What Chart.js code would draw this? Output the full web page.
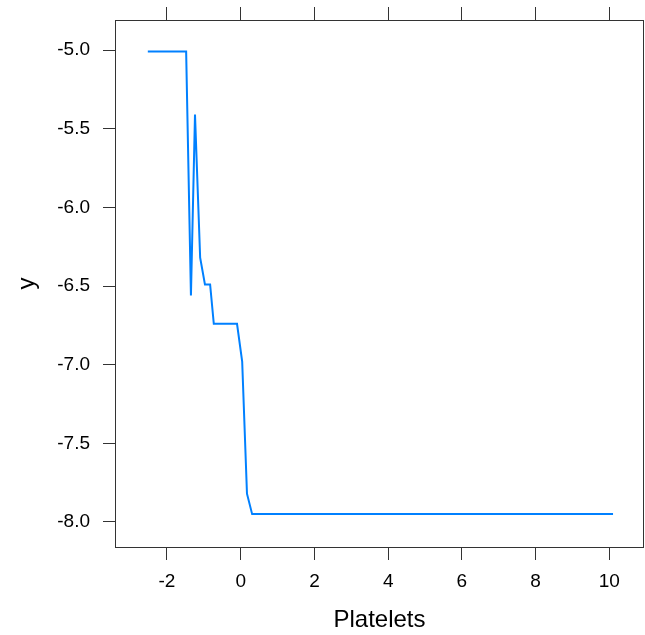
<!DOCTYPE html>
<html>
<head>
<meta charset="utf-8">
<script src="https://cdn.jsdelivr.net/npm/chart.js@4.4.1/dist/chart.umd.min.js"></script>
<style>
  html, body { margin: 0; padding: 0; background: #fff; }
  canvas { display: block; }
</style>
</head>
<body>
<canvas id="pdp" width="645" height="635"></canvas>
<script>
// partial dependence of y on Platelets
const platelets = [-2.52, -1.48, -1.35, -1.24, -1.10, -0.97, -0.83, -0.73, -0.10, 0.04, 0.17, 0.31, 10.10];
const yhat = [-5.01, -5.01, -6.56, -5.41, -6.32, -6.49, -6.49, -6.74, -6.74, -6.98, -7.82, -7.95, -7.95];

const xTicks = [-2, 0, 2, 4, 6, 8, 10];
const yTicks = [-8.0, -7.5, -7.0, -6.5, -6.0, -5.5, -5.0];

const FONT = '"Liberation Sans", Arial, sans-serif';
const AXIS = '#333';

// draws the closed panel frame
const frame = {
    id: 'frame',
    afterDraw(chart) {
        const { ctx, chartArea: a } = chart;
        ctx.save();
        ctx.strokeStyle = AXIS;
        ctx.lineWidth = 1;
        ctx.strokeRect(a.left + 0.5, a.top + 0.5, a.right - a.left - 1, a.bottom - a.top);
        ctx.restore();
    },
};

const fixedTicks = list => scale => { scale.ticks = list.map(v => ({ value: v })); };

// fixed axis thickness, no label overhang padding
const fitH = h => s => { s.height = h; s.paddingLeft = 0; s.paddingRight = 0; };
const fitW = w => s => { s.width = w; s.paddingTop = 0; s.paddingBottom = 0; };

new Chart(document.getElementById('pdp'), {
    type: 'line',
    data: {
        datasets: [{
            data: platelets.map((x, i) => ({ x, y: yhat[i] })),
            borderColor: '#0080ff',
            borderWidth: 2,
            pointRadius: 0,
            tension: 0,
            fill: false,
        }],
    },
    plugins: [frame],
    options: {
        responsive: false,
        animation: false,
        layout: { padding: { right: 1 } },
        plugins: { legend: { display: false }, tooltip: { enabled: false } },
        scales: {
            x: {
                type: 'linear',
                position: 'bottom',
                min: -3.41,
                max: 10.94,
                afterBuildTicks: fixedTicks(xTicks),
                afterFit: fitH(88),
                border: { display: false },
                grid: { drawOnChartArea: false, drawTicks: true, tickLength: 13, tickColor: AXIS, color: AXIS },
                ticks: { color: '#000', padding: 10, maxRotation: 0, font: { family: FONT, size: 19 }, callback: v => String(v) },
                title: { display: true, text: 'Platelets', color: '#000', padding: { top: 0, bottom: 0 }, font: { family: FONT, size: 24 } },
            },
            xTop: {
                type: 'linear',
                position: 'top',
                min: -3.41,
                max: 10.94,
                afterBuildTicks: fixedTicks(xTicks),
                afterFit: fitH(20),
                border: { display: false },
                grid: { drawOnChartArea: false, drawTicks: true, tickLength: 13, tickColor: AXIS, color: AXIS },
                ticks: { padding: 0, font: { size: 1 }, callback: () => '' },
            },
            y: {
                type: 'linear',
                position: 'left',
                min: -8.159,
                max: -4.809,
                afterBuildTicks: fixedTicks(yTicks),
                afterFit: fitW(115),
                border: { display: false },
                grid: { drawOnChartArea: false, drawTicks: true, tickLength: 12, tickColor: AXIS, color: AXIS },
                ticks: { color: '#000', padding: 13, font: { family: FONT, size: 19 }, callback: v => v.toFixed(1) },
                title: { display: true, text: 'y', color: '#000', padding: { top: 13, bottom: 0 }, font: { family: FONT, size: 24 } },
            },
        },
    },
});
</script>
</body>
</html>
